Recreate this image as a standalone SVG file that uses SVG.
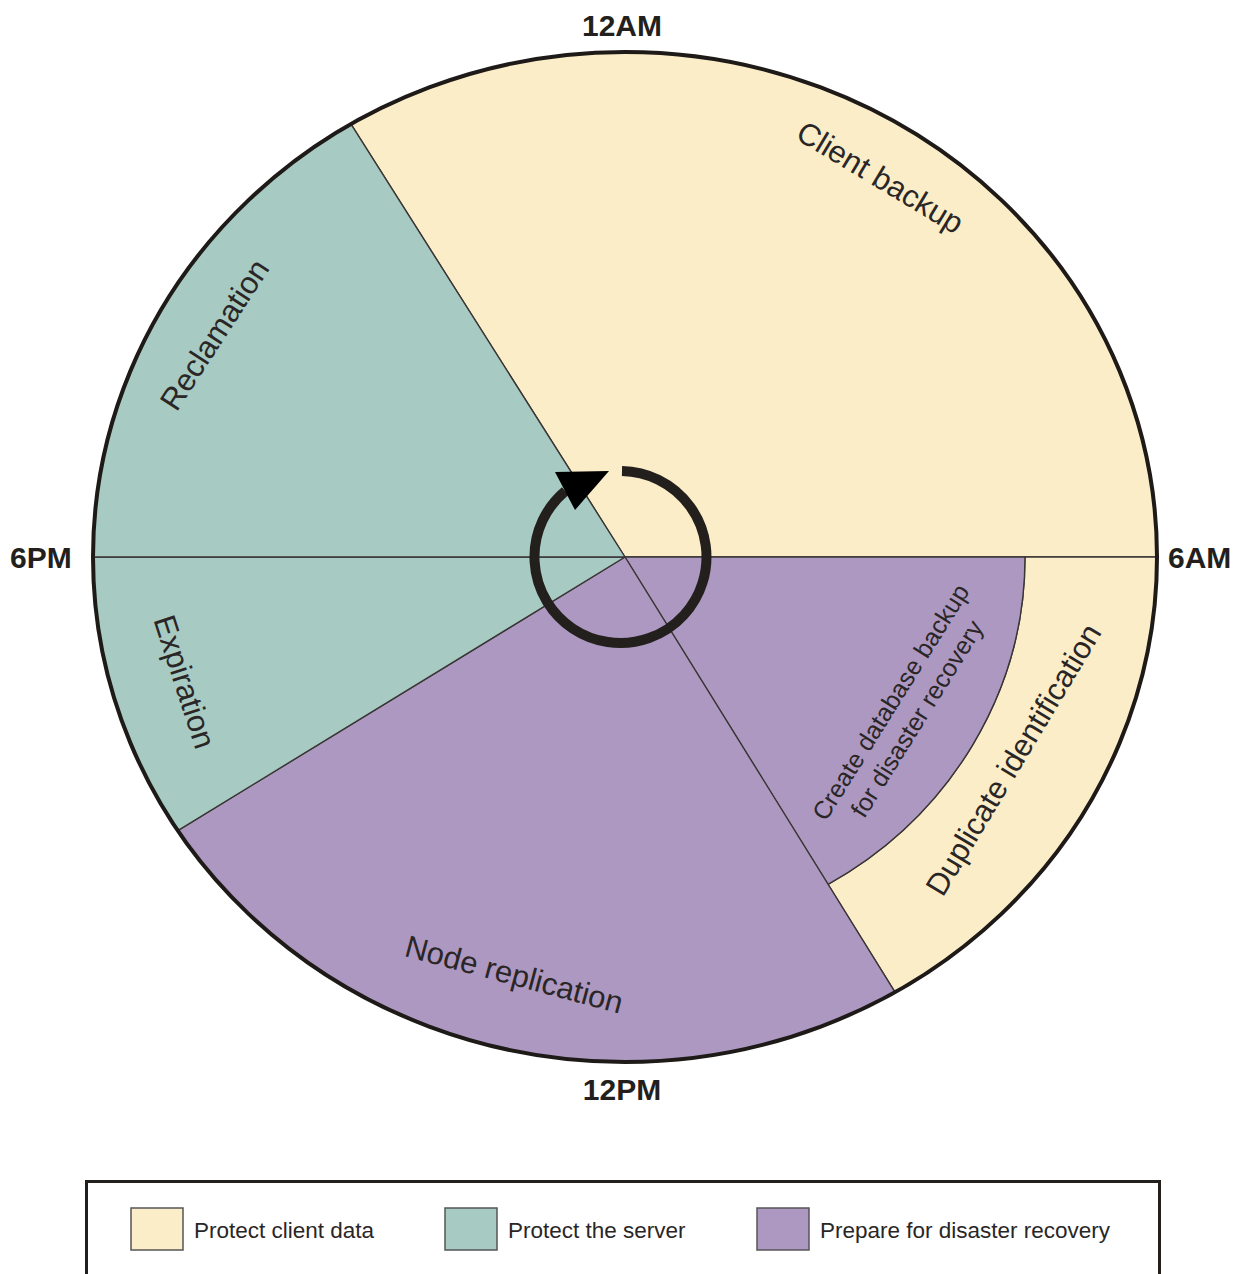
<svg xmlns="http://www.w3.org/2000/svg" width="1243" height="1274" viewBox="0 0 1243 1274">
<style>
.sec{stroke:#3a3634;stroke-width:1.4;stroke-linejoin:round}
.y{fill:#fcedc9}
.t{fill:#a7cac3}
.p{fill:#ad98c1}
.lbl{font-family:"Liberation Sans",Arial,sans-serif;font-size:31px;fill:#2a2626;text-anchor:middle}
.small{font-size:25px}
.time{font-family:"Liberation Sans",Arial,sans-serif;font-size:30px;font-weight:bold;fill:#231f1c}
.leg{font-family:"Liberation Sans",Arial,sans-serif;font-size:22.5px;fill:#2a2626}
.sw{stroke:#555;stroke-width:1.5}
</style>
<rect width="1243" height="1274" fill="#fff"/>
<g id="client-backup">
<path class="sec y" d="M625,557 L351,124.1 A532,505 0 0 1 1157,557 Z"/>
<text class="lbl" transform="translate(880,178) rotate(31)" y="10">Client backup</text>
</g>
<g id="duplicate-identification">
<path class="sec y" d="M1025,557 L1157,557 A532,505 0 0 1 895,992.1 L828,884.4 A400,380 0 0 0 1025,557 Z"/>
<text class="lbl" transform="translate(1014,760) rotate(-59)" y="10">Duplicate identification</text>
</g>
<g id="create-database-backup">
<path class="sec p" d="M625,557 L1025,557 A400,380 0 0 1 828,884.4 Z"/>
<text class="lbl small" transform="translate(903,710) rotate(-58)"><tspan x="0" y="-6">Create database backup</tspan><tspan x="0" y="25">for disaster recovery</tspan></text>
</g>
<g id="node-replication">
<path class="sec p" d="M625,557 L895,992.1 A532,505 0 0 1 177.8,830.6 Z"/>
<text class="lbl" transform="translate(514,975) rotate(15)" y="10">Node replication</text>
</g>
<g id="expiration">
<path class="sec t" d="M625,557 L177.8,830.6 A532,505 0 0 1 93,557 Z"/>
<text class="lbl" transform="translate(184,682) rotate(72)" y="10">Expiration</text>
</g>
<g id="reclamation">
<path class="sec t" d="M625,557 L93,557 A532,505 0 0 1 351,124.1 Z"/>
<text class="lbl" transform="translate(215,335) rotate(-57)" y="10">Reclamation</text>
</g>
<ellipse id="dial-rim" cx="625" cy="557" rx="532" ry="505" fill="none" stroke="#1e1a18" stroke-width="4"/>
<g id="connectors">
<path d="M622,471 A86,86 0 1 1 565.2,491.1" fill="none" stroke="#231f1c" stroke-width="10"/>
<polygon points="555,472 609,471 575,510" fill="#000"/>
</g>
<g id="time-labels">
<text class="time" x="622" y="36" text-anchor="middle">12AM</text>
<text class="time" x="622" y="1100" text-anchor="middle">12PM</text>
<text class="time" x="10" y="568">6PM</text>
<text class="time" x="1168" y="568">6AM</text>
</g>
<g id="legend">
<rect x="86.5" y="1181.5" width="1073" height="120" fill="#fff" stroke="#231f1c" stroke-width="3"/>
<rect class="sw y" x="131" y="1208" width="52" height="42"/>
<text class="leg" x="194" y="1238">Protect client data</text>
<rect class="sw t" x="445" y="1208" width="52" height="42"/>
<text class="leg" x="508" y="1238">Protect the server</text>
<rect class="sw p" x="757" y="1208" width="52" height="42"/>
<text class="leg" x="820" y="1238">Prepare for disaster recovery</text>
</g>
</svg>
